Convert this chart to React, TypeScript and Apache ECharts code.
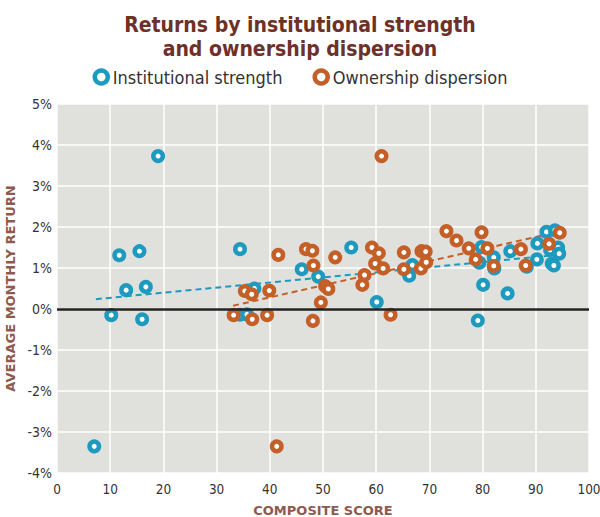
import React, { useEffect, useRef } from "react";
import * as echarts from "echarts";

const institutionalX = [7.0, 10.2, 11.7, 13.0, 15.5, 16.0, 16.7, 19.0, 34.4, 34.4, 35.7, 37.1, 46.0, 49.1, 55.3, 60.1, 66.2, 66.8, 79.1, 79.4, 79.8, 80.1, 82.1, 82.2, 84.7, 85.2, 88.3, 90.3, 90.2, 92.0, 93.6, 92.7, 94.2, 94.4, 93.0, 93.4];
const institutionalY = [-3.35, -0.15, 1.31, 0.46, 1.41, -0.25, 0.54, 3.73, 1.46, -0.14, -0.13, 0.5, 0.97, 0.79, 1.5, 0.17, 0.81, 1.07, -0.28, 1.13, 1.51, 0.59, 1.26, 0.99, 0.38, 1.41, 1.03, 1.6, 1.21, 1.88, 1.92, 1.44, 1.5, 1.35, 1.11, 1.06];

const ownershipX = [33.2, 35.3, 36.6, 36.7, 39.5, 39.9, 41.3, 41.6, 46.8, 48.0, 48.2, 48.1, 49.6, 50.4, 51.0, 52.3, 57.4, 57.8, 59.2, 59.8, 60.5, 61.0, 61.3, 62.7, 65.2, 65.2, 68.4, 68.5, 69.3, 69.4, 73.2, 75.1, 77.4, 78.7, 79.8, 80.9, 82.1, 87.2, 88.1, 92.5, 94.5];
const ownershipY = [-0.15, 0.44, 0.36, -0.25, -0.15, 0.45, -3.35, 1.32, 1.46, 1.42, 1.06, -0.29, 0.16, 0.56, 0.49, 1.26, 0.59, 0.83, 1.5, 1.11, 1.36, 3.73, 0.99, -0.14, 1.38, 0.97, 0.99, 1.41, 1.4, 1.14, 1.9, 1.67, 1.48, 1.21, 1.87, 1.48, 1.05, 1.46, 1.06, 1.59, 1.86];

const institutionalTrendX = [7.3, 94.2];
const institutionalTrendY = [0.24, 1.32];
const ownershipTrendX = [33.1, 94.5];
const ownershipTrendY = [0.08, 1.89];

const seriesNames = ["Institutional strength", "Ownership dispersion"];
const titleText = "Returns by institutional strength\nand ownership dispersion";

const BLUE = "#1e9abf";
const ORANGE = "#c55f28";
const NARROW = "'Liberation Sans Narrow', 'DejaVu Sans Condensed', 'Roboto', sans-serif";

const zip = (xs: number[], ys: number[]) => xs.map((x, i) => [x, ys[i]]);

export default function App() {
  const ref = useRef<HTMLDivElement>(null);
  useEffect(() => {
    if (!ref.current) return;
    const chart = echarts.init(ref.current, null, { renderer: "svg" });
    chart.setOption({
      animation: false,
      backgroundColor: "#ffffff",
      title: {
        text: titleText,
        left: "center",
        top: 8,
        textStyle: {
          fontFamily: NARROW,
          fontSize: 21,
          fontWeight: "bold",
          color: "#6d3127",
          lineHeight: 24,
        },
      },
      legend: {
        data: [
          { name: seriesNames[0], itemStyle: { color: "#ffffff", borderColor: BLUE, borderWidth: 4.5 } },
          { name: seriesNames[1], itemStyle: { color: "#ffffff", borderColor: ORANGE, borderWidth: 4.5 } },
        ],
        top: 63,
        left: "center",
        itemGap: 30,
        itemWidth: 13,
        itemHeight: 13,
        textStyle: { fontFamily: NARROW, fontSize: 18, color: "#333" },
      },
      grid: {
        left: 57,
        right: 11,
        top: 104,
        bottom: 44,
        show: true,
        backgroundColor: "#e0e0dc",
        borderWidth: 0,
        containLabel: false,
        outerBoundsMode: "none",
      },
      xAxis: {
        type: "value",
        min: 0,
        max: 100,
        interval: 10,
        name: "COMPOSITE SCORE",
        nameLocation: "middle",
        nameGap: 31,
        nameTextStyle: {
          fontFamily: "'DejaVu Sans', sans-serif",
          fontWeight: "bold",
          fontSize: 13,
          color: "#8e5a4d",
        },
        axisLine: { show: false },
        axisTick: { show: false },
        axisLabel: { fontFamily: NARROW, fontSize: 13.5, color: "#333", margin: 9 },
        splitLine: { show: true, lineStyle: { color: "#ffffff", width: 1.5 } },
      },
      yAxis: {
        type: "value",
        min: -4,
        max: 5,
        interval: 1,
        name: "AVERAGE MONTHLY RETURN",
        nameLocation: "middle",
        nameGap: 36,
        nameTextStyle: {
          fontFamily: "'DejaVu Sans', sans-serif",
          fontWeight: "bold",
          fontSize: 13,
          color: "#8e5a4d",
        },
        axisLine: { show: false },
        axisTick: { show: false },
        axisLabel: { fontFamily: NARROW, fontSize: 14, color: "#333", margin: 5, formatter: "{value}%" },
        splitLine: { show: true, lineStyle: { color: "#ffffff", width: 1.5 } },
      },
      series: [
        {
          name: "zero",
          type: "line",
          data: [],
          silent: true,
          z: 1,
          markLine: {
            silent: true,
            symbol: "none",
            label: { show: false },
            lineStyle: { color: "#222", width: 2.5, type: "solid" },
            data: [{ yAxis: 0 }],
          },
        },
        {
          name: "instTrend",
          type: "line",
          data: zip(institutionalTrendX, institutionalTrendY),
          symbol: "none",
          silent: true,
          z: 2,
          lineStyle: { color: BLUE, width: 2, type: [6, 4] },
        },
        {
          name: "ownTrend",
          type: "line",
          data: zip(ownershipTrendX, ownershipTrendY),
          symbol: "none",
          silent: true,
          z: 2,
          lineStyle: { color: ORANGE, width: 2, type: [6, 4] },
        },
        {
          name: seriesNames[0],
          type: "scatter",
          data: zip(institutionalX, institutionalY),
          symbol: "circle",
          symbolSize: 9.5,
          z: 3,
          itemStyle: { color: "#ffffff", borderColor: BLUE, borderWidth: 4.5, opacity: 1 },
        },
        {
          name: seriesNames[1],
          type: "scatter",
          data: zip(ownershipX, ownershipY),
          symbol: "circle",
          symbolSize: 9.5,
          z: 4,
          itemStyle: { color: "#ffffff", borderColor: ORANGE, borderWidth: 4.5, opacity: 1 },
        },
      ],
    });
    return () => chart.dispose();
  }, []);
  return (
    <div
      ref={ref}
      style={{ position: "absolute", left: 0, top: 0, width: 600, height: 517 }}
    />
  );
}
